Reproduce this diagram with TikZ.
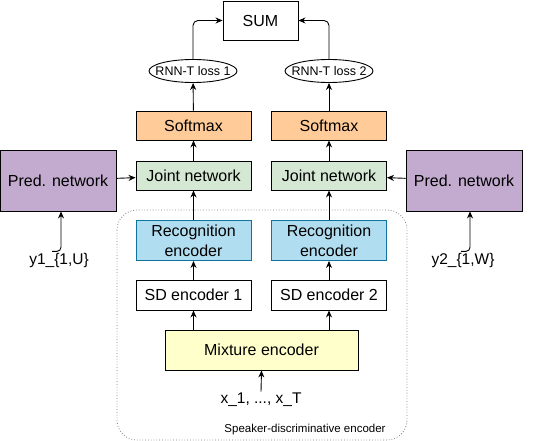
\documentclass[tikz,border=0pt]{standalone}
\usepackage{fontspec}
\setmainfont{Liberation Sans}
\usepackage{xcolor}
\usetikzlibrary{shapes.geometric,arrows.meta,calc}

\definecolor{predpurple}{HTML}{C3ABD0}
\definecolor{softorange}{HTML}{FFCC99}
\definecolor{jointgreen}{HTML}{D5E8D4}
\definecolor{recogblue}{HTML}{B1DDF0}
\definecolor{recogedge}{HTML}{10739E}
\definecolor{mixyellow}{HTML}{FFFFCC}

\begin{document}
\begin{tikzpicture}[x=1pt,y=-1pt,line width=0.9pt,
    blk/.style={draw,minimum width=115pt,minimum height=29pt,inner sep=0pt,align=center,font=\fontsize{16}{20}\selectfont},
    loss/.style={draw,ellipse,minimum width=88pt,minimum height=23pt,inner xsep=-7pt,inner ysep=0pt,font=\fontsize{12.5}{15}\selectfont},
    lbl/.style={inner sep=1pt,font=\fontsize{15.5}{18}\selectfont},
    arr/.style={-{Stealth[length=7pt,width=6pt]}}]
        \useasboundingbox (0,0) rectangle (541,441);
        % speaker-discriminative part
        \draw[dotted,gray,line width=0.8pt,rounded corners=20pt] (117,210) rectangle (407,440);
        \node[anchor=east,inner sep=0pt,font=\fontsize{11.5}{13}\selectfont] (sdlabel) at (386,430) {Speaker-discriminative encoder};

        \node[draw,minimum width=75pt,minimum height=39pt,inner sep=0pt,font=\fontsize{16}{20}\selectfont] (sum) at (260.5,20.5) {SUM};
        \node[loss] (loss1) at (193,71) {RNN-T loss 1};
        \node[loss] (loss2) at (329,71) {RNN-T loss 2};
        \node[blk,fill=softorange] (soft1) at (193.5,125.5) {Softmax};
        \node[blk,fill=softorange] (soft2) at (329,125.5) {Softmax};
        \node[blk,fill=jointgreen] (joint1) at (193.5,175.5) {Joint network};
        \node[blk,fill=jointgreen] (joint2) at (329,175.5) {Joint network};
        \node[blk,fill=predpurple,minimum width=116pt,minimum height=61pt] (predl) at (58,180.5) {Pred. network};
        \node[blk,fill=predpurple,minimum width=116pt,minimum height=61pt] (predr) at (464,180.5) {Pred. network};
        \node[blk,fill=recogblue,draw=recogedge,minimum height=40pt] (recog1) at (193.5,240.5) {Recognition\\encoder};
        \node[blk,fill=recogblue,draw=recogedge,minimum height=40pt] (recog2) at (329,240.5) {Recognition\\encoder};
        \node[blk,minimum height=30pt] (sd1) at (193.5,295) {SD encoder 1};
        \node[blk,minimum height=30pt] (sd2) at (329,295) {SD encoder 2};
        \node[blk,fill=mixyellow,minimum width=193pt,minimum height=40pt] (mix) at (261.5,350) {Mixture encoder};
        \node[lbl] (xin) at (261,400) {x\_1, ..., x\_T};
        \node[lbl] (y1) at (59,260) {y1\_\{1,U\}};
        \node[lbl] (y2) at (463,260) {y2\_\{1,W\}};

        % connections
        \draw[arr] (xin.north) -- (mix.south);
        \draw[arr] (sd1.south |- mix.north) -- (sd1.south);
        \draw[arr] (sd2.south |- mix.north) -- (sd2.south);
        \draw[arr] (sd1) -- (recog1);
        \draw[arr] (sd2) -- (recog2);
        \draw[arr] (recog1) -- (joint1);
        \draw[arr] (recog2) -- (joint2);
        \draw[arr] (predl) -- (joint1);
        \draw[arr] (predr) -- (joint2);
        \draw[arr] (joint1) -- (soft1);
        \draw[arr] (joint2) -- (soft2);
        \draw[arr] (soft1) -- (loss1);
        \draw[arr] (soft2) -- (loss2);
        \draw[arr,rounded corners=5pt] (loss1.north) |- (sum.west);
        \draw[arr,rounded corners=5pt] (loss2.north) |- (sum.east);
        \draw[arr,rounded corners=4pt] ($(y1.north)+(-7,0)$) -| ($(predl.south)+(3,0)$);
        \draw[arr,rounded corners=4pt] ($(y2.north)+(-2,0)$) -| ($(predr.south)+(6,0)$);
\end{tikzpicture}
\end{document}
